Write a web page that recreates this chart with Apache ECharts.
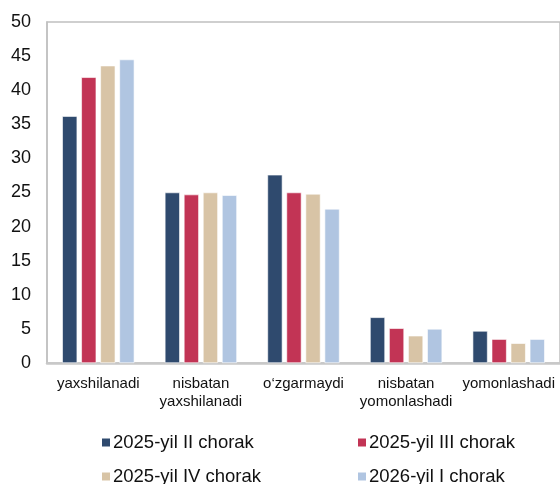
<!DOCTYPE html>
<html>
<head>
<meta charset="utf-8">
<script src="https://cdn.jsdelivr.net/npm/echarts@6/dist/echarts.min.js"></script>
<style>
html, body { margin: 0; padding: 0; background: #fff; }
#chart { width: 560px; height: 484px; }
</style>
</head>
<body>
<div id="chart"></div>
<script>
var categories = ['yaxshilanadi', 'nisbatan\nyaxshilanadi', 'o\u2018zgarmaydi', 'nisbatan\nyomonlashadi', 'yomonlashadi'];
var seriesNames = ['2025-yil II chorak', '2025-yil III chorak', '2025-yil IV chorak', '2026-yil I chorak'];
var q2_2025 = [36.2, 25.0, 27.6, 6.7, 4.7];
var q3_2025 = [41.9, 24.7, 25.0, 5.1, 3.5];
var q4_2025 = [43.6, 25.0, 24.8, 4.0, 2.9];
var q1_2026 = [44.5, 24.6, 22.6, 5.0, 3.5];
var colors = ['#2F4A6E', '#C23455', '#D8C4A6', '#B0C5E1'];

var myChart = echarts.init(document.getElementById('chart'));
var allData = [q2_2025, q3_2025, q4_2025, q1_2026];
var legendPos = [
    {left: 100, top: 433},
    {left: 356, top: 433},
    {left: 100, top: 467},
    {left: 356, top: 467}
];

var option = {
    animation: false,
    color: colors,
    textStyle: { fontFamily: 'Liberation Sans, Arial, sans-serif' },
    grid: {
        left: 47,
        top: 22,
        right: -3,
        bottom: 121,
        show: true,
        borderColor: '#C0C0C0',
        borderWidth: 1.5
    },
    legend: legendPos.map(function (p, i) {
        return {
            left: p.left,
            top: p.top,
            data: [seriesNames[i]],
            icon: 'rect',
            itemWidth: 10,
            itemHeight: 10,
            itemGap: 0,
            padding: 0,
            textStyle: { fontSize: 18.5, color: '#111', padding: [0, 0, 0, -3] }
        };
    }),
    xAxis: {
        type: 'category',
        data: categories,
        axisLine: { lineStyle: { color: '#C8C8C8', width: 2.5 } },
        axisTick: { show: false },
        axisLabel: { interval: 0, fontSize: 15, color: '#111', margin: 12, lineHeight: 18 }
    },
    yAxis: {
        type: 'value',
        min: 0,
        max: 50,
        interval: 5,
        splitLine: { show: false },
        axisLine: { show: true, lineStyle: { color: '#C0C0C0', width: 1.5 } },
        axisTick: { show: false },
        axisLabel: { fontSize: 18, color: '#111', margin: 16 }
    },
    series: allData.map(function (d, i) {
        return {
            name: seriesNames[i],
            type: 'bar',
            data: d,
            barWidth: 15,
            barGap: '27%',
            itemStyle: { borderColor: '#fff', borderWidth: 0.6 }
        };
    })
};

myChart.setOption(option);
</script>
</body>
</html>
